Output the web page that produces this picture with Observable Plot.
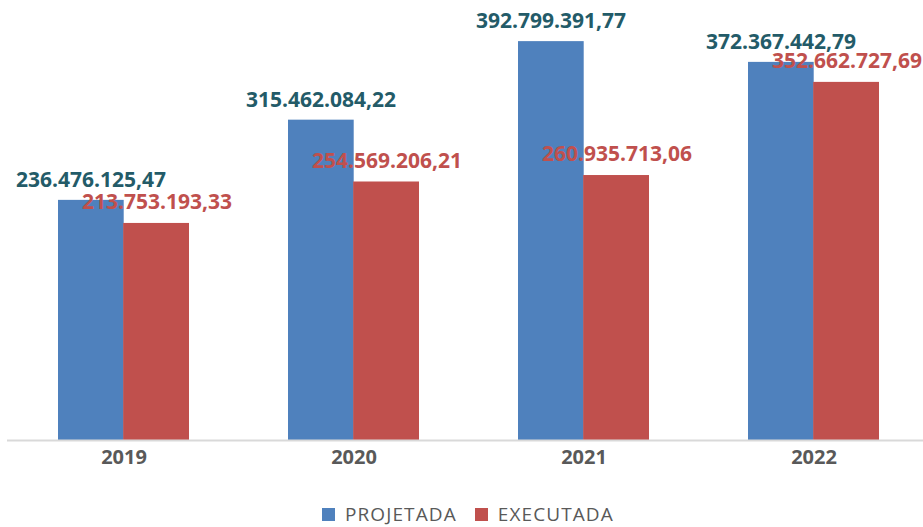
<!DOCTYPE html>
<html>
<head>
<meta charset="utf-8">
<script src="https://cdn.jsdelivr.net/npm/d3@7"></script>
<script src="https://cdn.jsdelivr.net/npm/@observablehq/plot@0.6"></script>
<style>
  html, body { margin: 0; padding: 0; background: #fff; overflow: hidden; }
  #chart svg { display: block; }
  #legend { height: 37px; box-sizing: border-box; padding-top: 11px; padding-left: 322px; display: flex; align-items: flex-start; font-family: "Open Sans", sans-serif; font-size: 19px; color: #595959; letter-spacing: 1.1px; line-height: 26px; }
  .sw { display: inline-block; width: 13px; height: 13px; margin-right: 10px; }
  .item { display: flex; align-items: center; margin-right: 18px; height: 26px; }
</style>
</head>
<body>
<div id="chart"></div>
<div id="legend"></div>
<script>
const years = ["2019", "2020", "2021", "2022"];
const projetada = [236476125.47, 315462084.22, 392799391.77, 372367442.79];
const executada = [213753193.33, 254569206.21, 260935713.06, 352662727.69];
const seriesNames = ["PROJETADA", "EXECUTADA"];
const colors = ["#4F81BD", "#C0504D"];
const labelColors = ["#235B68", "#C0504D"];

const rows = years.flatMap((y, i) => [
  {year: y, series: seriesNames[0], value: projetada[i]},
  {year: y, series: seriesNames[1], value: executada[i]}
]);
const fmt = v => v.toLocaleString("de-DE", {minimumFractionDigits: 2, maximumFractionDigits: 2});
const blue = rows.filter(d => d.series === seriesNames[0]);
const red = rows.filter(d => d.series === seriesNames[1]);

const chart = Plot.plot({
  width: 923,
  height: 490,
  marginLeft: 7,
  marginRight: 0,
  marginTop: 0,
  marginBottom: 50,
  x: {domain: years, range: [7, 931], paddingInner: 0.4286, paddingOuter: 0.2165, label: null},
  y: {domain: [0, 433.3e6], range: [440, 0], axis: null},
  style: {fontFamily: "Open Sans, sans-serif", background: "#fff"},
  marks: [
    Plot.barY(blue, {x: "year", y: "value", fill: colors[0], insetRight: 65.3}),
    Plot.barY(red, {x: "year", y: "value", fill: colors[1], insetLeft: 65.2}),
    Plot.ruleY([0], {stroke: "#d9d9d9", strokeWidth: 2}),
    Plot.axisX({tickSize: 0, tickPadding: 9, fontSize: 20, fontWeight: "bold", fill: "#595959", label: null}),
    Plot.text(blue, {x: "year", y: "value", text: d => fmt(d.value), dx: -33, dy: -20, fill: labelColors[0], fontSize: 21, fontWeight: "bold"}),
    Plot.text(red, {x: "year", y: "value", text: d => fmt(d.value), dx: 33, dy: -21, fill: labelColors[1], fontSize: 21, fontWeight: "bold"})
  ]
});
document.getElementById("chart").appendChild(chart);

const legend = document.getElementById("legend");
seriesNames.forEach((s, i) => {
  const item = document.createElement("span");
  item.className = "item";
  const sw = document.createElement("span");
  sw.className = "sw";
  sw.style.background = colors[i];
  item.appendChild(sw);
  item.appendChild(document.createTextNode(s));
  legend.appendChild(item);
});
</script>
</body>
</html>
